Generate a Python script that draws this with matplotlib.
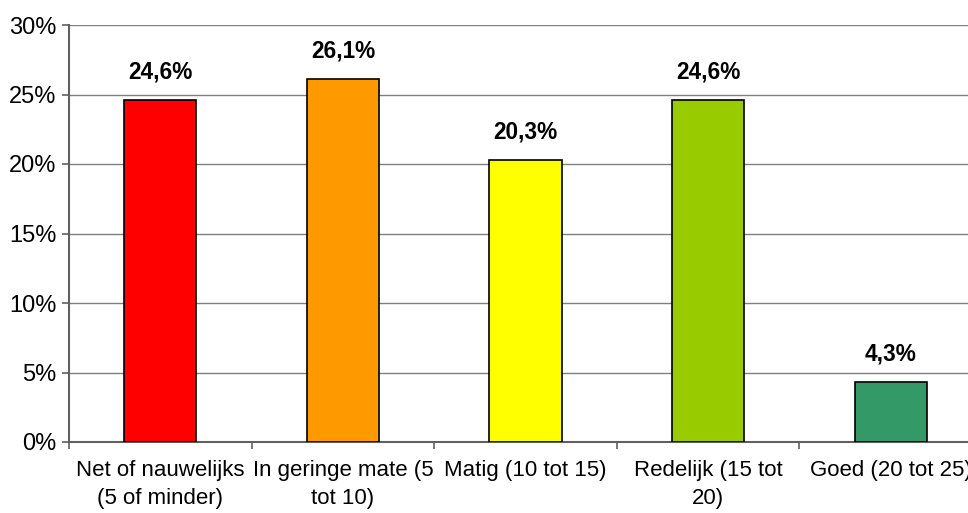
import matplotlib
matplotlib.use("Agg")
import matplotlib.pyplot as plt
from matplotlib.ticker import FixedLocator, FuncFormatter

categories = [
    "Net of nauwelijks\n(5 of minder)",
    "In geringe mate (5\ntot 10)",
    "Matig (10 tot 15)",
    "Redelijk (15 tot\n20)",
    "Goed (20 tot 25)",
]
values = [24.6, 26.1, 20.3, 24.6, 4.3]
colors = ["#FF0000", "#FF9900", "#FFFF00", "#99CC00", "#339966"]
yticks = [0, 5, 10, 15, 20, 25, 30]

plt.rcParams["font.family"] = ["Liberation Sans", "DejaVu Sans"]

fig = plt.figure(figsize=(9.68, 5.13), dpi=100)
ax = fig.add_axes([69 / 968, 71 / 513, 913 / 968, 417 / 513])

x = list(range(len(values)))
ax.bar(x, values, width=0.395, color=colors, edgecolor="black", linewidth=1.2, zorder=3)

for xi, v in zip(x, values):
    ax.annotate(f"{v:.1f}%".replace(".", ","), (xi, v), xytext=(0, 12),
                textcoords="offset points", ha="center", va="bottom",
                fontsize=16.3, fontweight="bold")

ax.set_xlim(-0.5, len(values) - 0.5)
ax.set_ylim(0, 30)
ax.yaxis.set_major_locator(FixedLocator(yticks))
ax.yaxis.set_major_formatter(FuncFormatter(lambda v, p: f"{v:.0f}%"))
ax.grid(axis="y", color="#808080", linewidth=1.0, zorder=0)

ax.set_xticks(x)
ax.set_xticklabels(categories, fontsize=16, linespacing=1.45)
ax.set_xticks([i - 0.5 for i in range(len(values) + 1)], minor=True)
ax.tick_params(axis="x", which="major", length=0, pad=13)
ax.tick_params(axis="x", which="minor", length=5, width=1.2, color="#606060")
ax.tick_params(axis="y", length=5, width=1.2, color="#606060", labelsize=17, pad=4)

for side in ("top", "right"):
    ax.spines[side].set_visible(False)
for side in ("left", "bottom"):
    ax.spines[side].set_color("#606060")
    ax.spines[side].set_linewidth(1.5)

fig.savefig("out.png", dpi=100)
